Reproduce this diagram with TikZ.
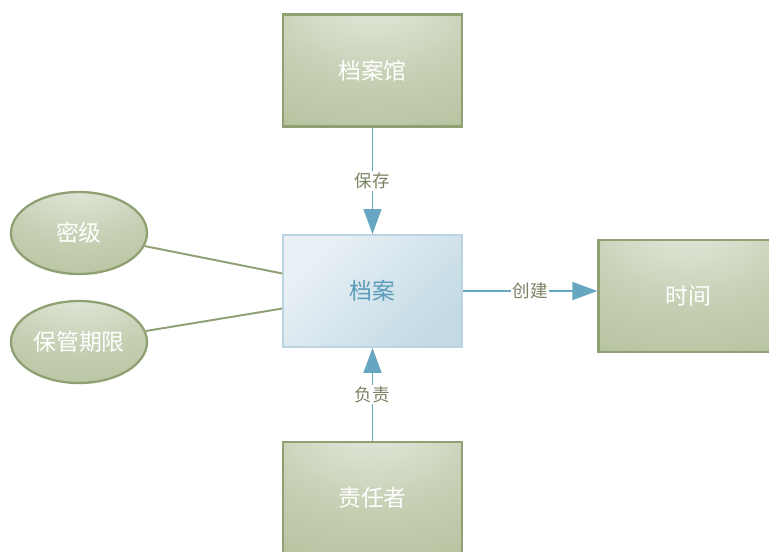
\documentclass[tikz,border=0pt]{standalone}
\usepackage{fontspec}
\setmainfont{Noto Sans CJK SC}
\usepackage{tikz}
\usetikzlibrary{calc,shapes.geometric,arrows.meta,positioning}
\definecolor{glowlight}{HTML}{E8ECE2}
\definecolor{glowmid}{HTML}{C6D0B4}
\definecolor{glowdark}{HTML}{A8B78D}
\definecolor{greenedge}{HTML}{8FA072}
\definecolor{paleblue}{HTML}{EAF1F6}
\definecolor{deepblue}{HTML}{C3DAE4}
\definecolor{blueedge}{HTML}{BAD4E1}
\definecolor{bluetext}{HTML}{5B9CB8}
\definecolor{linkblue}{HTML}{67A6C0}
\definecolor{labelgreen}{HTML}{7A8464}
\pgfdeclareradialshading{greenglow}{\pgfpoint{0bp}{38bp}}{color(0bp)=(glowlight); color(30bp)=(glowmid); color(70bp)=(glowdark); color(100bp)=(glowdark)}

\begin{document}
\begin{tikzpicture}[thick,inner sep=2pt,
                    entity/.style={rectangle,draw=greenedge,line width=1.3pt,shading=greenglow,
                                   minimum width=3.58cm,minimum height=2.24cm,text=white,
                                   font=\fontsize{13}{15}\selectfont},
                    attribute/.style={ellipse,draw=greenedge,line width=1.3pt,shading=greenglow,
                                      minimum width=2.72cm,minimum height=1.64cm,inner sep=0pt,
                                      text=white,font=\fontsize{13}{15}\selectfont},
                    record/.style={rectangle,draw=blueedge,line width=1.1pt,top color=paleblue,
                                   bottom color=deepblue,shading angle=45,
                                   minimum width=3.58cm,minimum height=2.24cm,text=bluetext,
                                   font=\fontsize{13}{15}\selectfont},
                    relation/.style={draw=linkblue,line width=0.8pt,-{Triangle[length=0.5cm,width=0.36cm]}},
                    linkname/.style={fill=white,text=labelgreen,inner sep=1pt,font=\fontsize{10}{12}\selectfont}]
\useasboundingbox (0,0) rectangle (15.38,-11.02);
\node[record]    (1) at (7.45,-5.82)                 {档案};
\node[entity]    (2) at ($ (1) + ( 0.00, 4.41) $)    {档案馆};
\node[entity]    (3) at ($ (1) + ( 6.31,-0.10) $)    {时间};
\node[entity]    (4) at ($ (1) + ( 0.00,-4.14) $)    {责任者};
\node[attribute] (5) at ($ (1) + (-5.87, 1.16) $)    {密级};
\node[attribute] (6) at ($ (1) + (-5.87,-1.02) $)    {保管期限};
%
\path[every node/.style={linkname}]
  (2) edge[relation] node[midway] {保存} (1)
  (4) edge[relation] node[midway] {负责} (1)
  (1) edge[relation] node[midway] {创建} (1 -| 3.west)
  ;
\draw[greenedge,line width=1.1pt] (5) -- (1.169);
\draw[greenedge,line width=1.1pt] (6) -- (1.191);
\end{tikzpicture}
\end{document}
